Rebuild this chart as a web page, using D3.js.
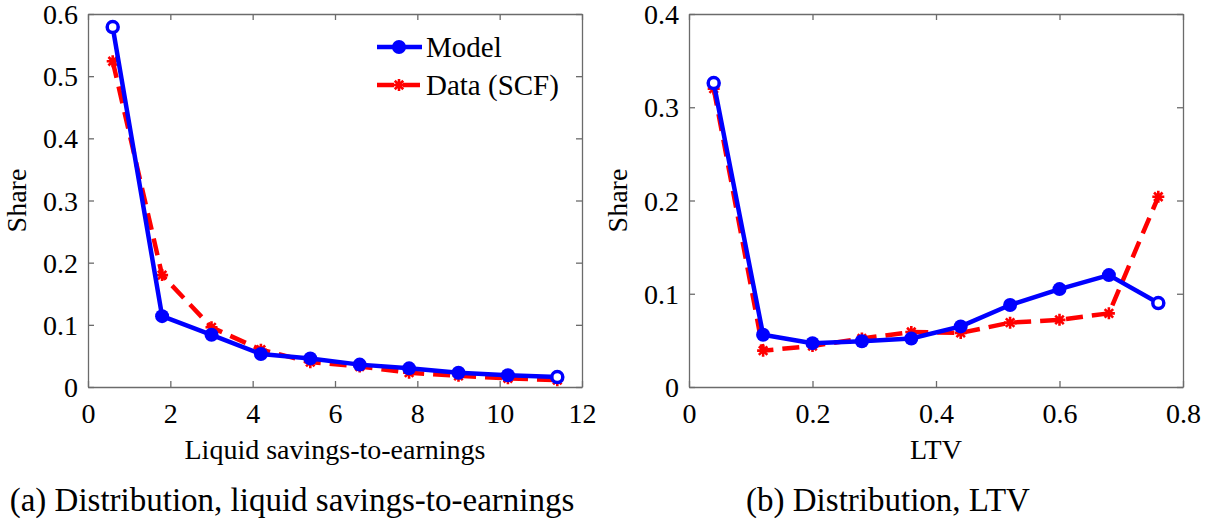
<!DOCTYPE html>
<html><head><meta charset="utf-8">
<script src="https://cdn.jsdelivr.net/npm/d3@7"></script>
<style>body{margin:0;background:#fff}svg{display:block}svg text{font-family:"Liberation Serif","Times New Roman",serif !important;fill:#000}</style>
</head><body><svg id="c" width="1210" height="522"></svg>
<script>
// Panel (a)
const xA = [0.6, 1.8, 3.0, 4.2, 5.4, 6.6, 7.8, 9.0, 10.2, 11.4];
const modelA = [0.579, 0.114, 0.084, 0.053, 0.046, 0.036, 0.030, 0.023, 0.019, 0.016];
const dataA  = [0.524, 0.180, 0.096, 0.060, 0.040, 0.033, 0.023, 0.018, 0.014, 0.011];
const xTicksA = [0, 2, 4, 6, 8, 10, 12];
const yTicksA = [0, 0.1, 0.2, 0.3, 0.4, 0.5, 0.6];
// Panel (b)
const xB = [0.04, 0.12, 0.2, 0.28, 0.36, 0.44, 0.52, 0.6, 0.68, 0.76];
const modelB = [0.326, 0.056, 0.047, 0.049, 0.052, 0.065, 0.088, 0.105, 0.120, 0.090];
const dataB  = [0.320, 0.039, 0.044, 0.052, 0.059, 0.058, 0.069, 0.072, 0.079, 0.204];
const xTicksB = [0, 0.2, 0.4, 0.6, 0.8];
const yTicksB = [0, 0.1, 0.2, 0.3, 0.4];
const seriesNames = ["Model", "Data (SCF)"];

const svg = d3.select("#c");
const fmt = d => (d === 0 ? "0" : String(d));

function asteriskPath(s) {
  const d = s * 0.7071;
  return `M${-s},0L${s},0M0,${-s}L0,${s}M${-d},${-d}L${d},${d}M${-d},${d}L${d},${-d}`;
}

function panel(opt) {
  const x = d3.scaleLinear().domain(opt.xDom).range([opt.left, opt.right]);
  const y = d3.scaleLinear().domain(opt.yDom).range([opt.bottom, opt.top]);
  const g = svg.append("g");
  const tl = 6;
  const ax = [
    [d3.axisBottom(x).tickValues(opt.xTicks).tickFormat(fmt).tickSizeInner(-tl).tickSizeOuter(0), `translate(0,${opt.bottom})`, "b"],
    [d3.axisTop(x).tickValues(opt.xTicks).tickFormat("").tickSizeInner(-tl).tickSizeOuter(0), `translate(0,${opt.top})`, "t"],
    [d3.axisLeft(y).tickValues(opt.yTicks).tickFormat(fmt).tickSizeInner(-tl).tickSizeOuter(0), `translate(${opt.left},0)`, "l"],
    [d3.axisRight(y).tickValues(opt.yTicks).tickFormat("").tickSizeInner(-tl).tickSizeOuter(0), `translate(${opt.right},0)`, "r"]
  ];
  ax.forEach(([a, t, side]) => {
    const gg = g.append("g").attr("transform", t).call(a).attr("font-family", null).attr("font-size", null);
    gg.select(".domain").attr("stroke", "#6b6b6b").attr("stroke-width", 1.3);
    gg.selectAll(".tick line").attr("stroke", "#6b6b6b").attr("stroke-width", 1.3);
    gg.selectAll(".tick text").attr("font-size", 28).attr("fill", "#000");
    if (side === "b") gg.selectAll(".tick text").attr("y", 14).attr("dy", "0.78em");
    if (side === "l") gg.selectAll(".tick text").attr("x", -10).attr("dy", "0.34em");
  });

  const line = d3.line().x((d, i) => x(opt.xs[i])).y(d => y(d));
  // Data (SCF) red dashed
  g.append("path").datum(opt.data).attr("d", line).attr("fill", "none")
    .attr("stroke", "#ff0000").attr("stroke-width", 4.5).attr("stroke-dasharray", "17,9");
  g.selectAll(".ast").data(opt.data).enter().append("path")
    .attr("d", asteriskPath(6)).attr("transform", (d, i) => `translate(${x(opt.xs[i])},${y(d)})`)
    .attr("stroke", "#ff0000").attr("stroke-width", 2.6).attr("fill", "none");
  // Model blue
  g.append("path").datum(opt.model).attr("d", line).attr("fill", "none")
    .attr("stroke", "#0000ff").attr("stroke-width", 4.5).attr("stroke-linejoin", "round");
  g.selectAll(".mk").data(opt.model).enter().append("circle")
    .attr("cx", (d, i) => x(opt.xs[i])).attr("cy", d => y(d)).attr("r", (d,i)=> (opt.open.includes(i) ? 5.5 : 7))
    .attr("fill", (d, i) => opt.open.includes(i) ? "#fff" : "#0000ff")
    .attr("stroke", "#0000ff").attr("stroke-width", (d,i)=> opt.open.includes(i) ? 3.5 : 0);

  svg.append("text").attr("x", (opt.left + opt.right) / 2).attr("y", 459).attr("text-anchor", "middle")
    .attr("font-size", 28).text(opt.xLabel);
  svg.append("text").attr("transform", `translate(${opt.left - 62},${(opt.top + opt.bottom) / 2}) rotate(-90)`)
    .attr("text-anchor", "middle").attr("font-size", 28).text("Share");
  svg.append("text").attr("x", opt.capX).attr("y", 511).attr("text-anchor", "middle")
    .attr("font-size", 33).text(opt.caption);
  return { x, y, g };
}

panel({ left: 88, right: 582, top: 14, bottom: 387, xDom: [0, 12], yDom: [0, 0.6],
  xTicks: xTicksA, yTicks: yTicksA, xs: xA, model: modelA, data: dataA, open: [0, 9],
  xLabel: "Liquid savings-to-earnings", caption: "(a) Distribution, liquid savings-to-earnings", capX: 292 });
panel({ left: 689, right: 1183, top: 14, bottom: 387, xDom: [0, 0.8], yDom: [0, 0.4],
  xTicks: xTicksB, yTicks: yTicksB, xs: xB, model: modelB, data: dataB, open: [0, 9],
  xLabel: "LTV", caption: "(b) Distribution, LTV", capX: 888 });

// Legend
const lg = svg.append("g");
[0, 1].forEach(i => {
  const yy = 47 + i * 38;
  if (i === 0) {
    lg.append("line").attr("x1", 377).attr("x2", 422).attr("y1", yy).attr("y2", yy).attr("stroke", "#0000ff").attr("stroke-width", 4.5);
    lg.append("circle").attr("cx", 399).attr("cy", yy).attr("r", 7).attr("fill", "#0000ff");
  } else {
    lg.append("line").attr("x1", 377).attr("x2", 422).attr("y1", yy).attr("y2", yy).attr("stroke", "#ff0000").attr("stroke-width", 4.5).attr("stroke-dasharray", "17,9");
    lg.append("path").attr("d", asteriskPath(6)).attr("transform", `translate(399,${yy})`).attr("stroke", "#ff0000").attr("stroke-width", 2.6);
  }
  lg.append("text").attr("x", 426).attr("y", yy + 10).attr("font-size", 29).text(seriesNames[i]);
});
</script></body></html>
